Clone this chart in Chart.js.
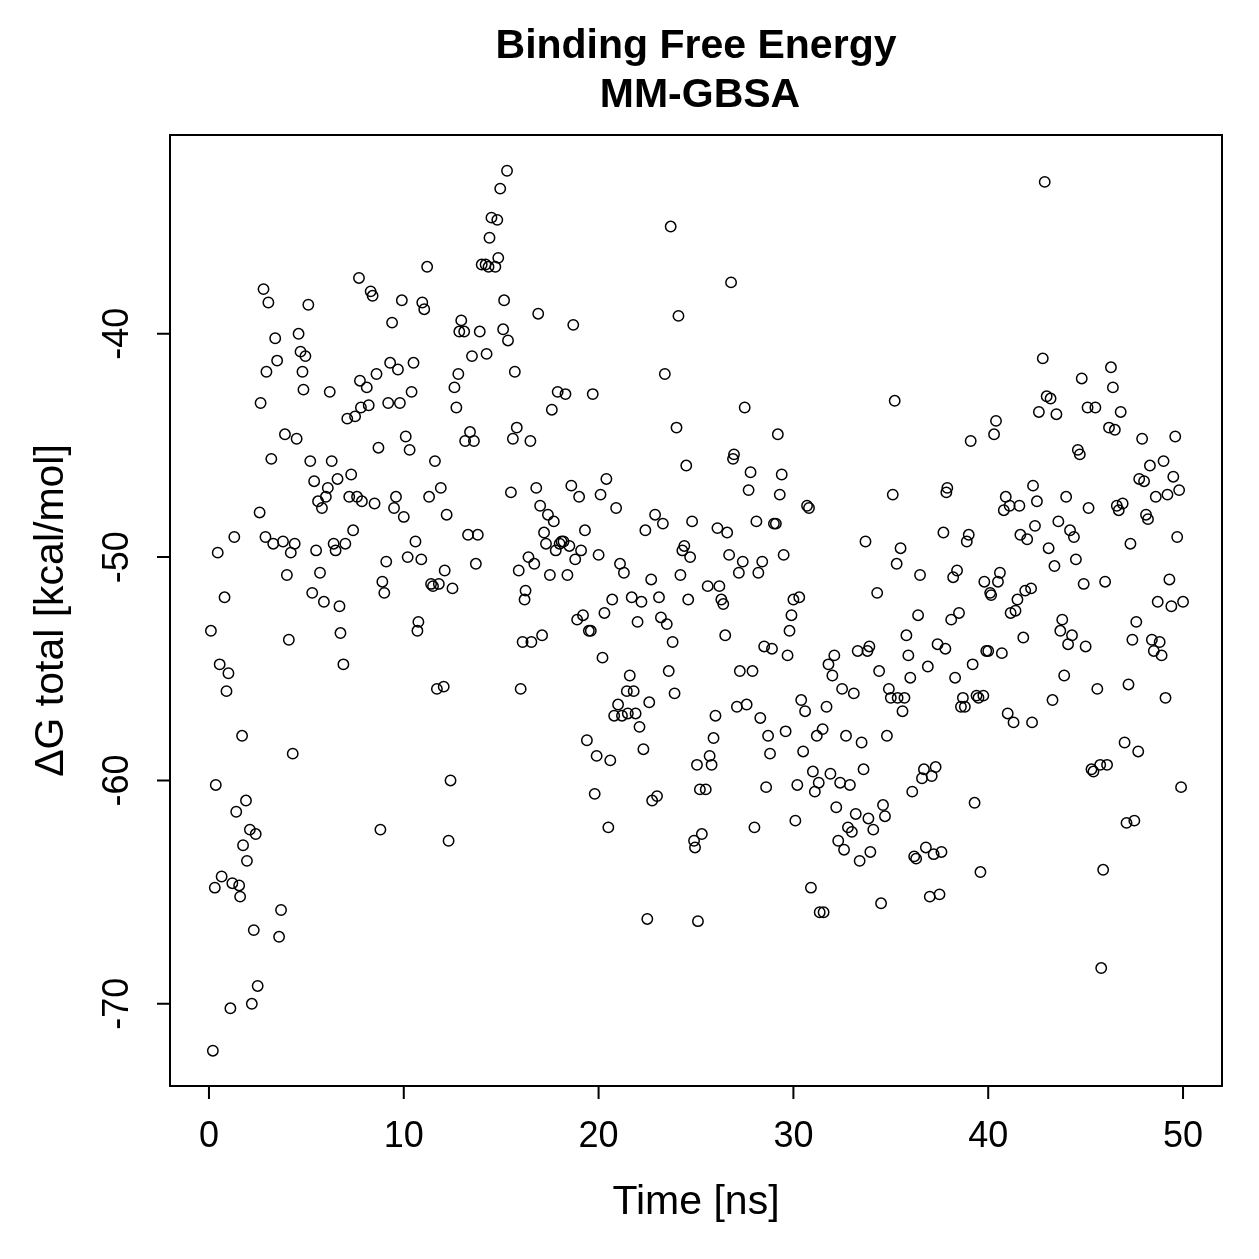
<!DOCTYPE html>
<html lang="en">
<head>
    <meta charset="UTF-8">
    <title>Binding Free Energy - MM-GBSA</title>
    <script src="https://cdn.jsdelivr.net/npm/chart.js"></script>
    <style>
        body { margin: 0; background: #fff; }
        #wrap { width: 1259px; height: 1259px; }
    </style>
</head>
<body>
    <div id="wrap"><canvas id="dgChart" width="1259" height="1259"></canvas></div>

    <script>
        // Valores (tiempo en ns, ΔG en kcal/mol)
        const timeNs = [
            0.1, 0.2, 0.3, 0.35, 0.45, 0.55, 0.65, 0.8, 0.9, 1.0,
            1.1, 1.2, 1.3, 1.4, 1.55, 1.6, 1.7, 1.75, 1.9, 1.95,
            2.1, 2.2, 2.3, 2.4, 2.5, 2.6, 2.65, 2.8, 2.9, 2.95,
            3.05, 3.2, 3.3, 3.4, 3.5, 3.6, 3.7, 3.8, 3.9, 4.0,
            4.1, 4.2, 4.3, 4.4, 4.5, 4.6, 4.7, 4.8, 4.85, 4.95,
            5.1, 5.2, 5.3, 5.4, 5.5, 5.6, 5.7, 5.8, 5.9, 6.0,
            6.1, 6.2, 6.3, 6.4, 6.5, 6.6, 6.7, 6.75, 6.9, 7.0,
            7.1, 7.2, 7.3, 7.4, 7.5, 7.6, 7.7, 7.75, 7.8, 7.85,
            8.1, 8.2, 8.3, 8.4, 8.5, 8.6, 8.7, 8.8, 8.9, 9.0,
            9.1, 9.2, 9.3, 9.4, 9.5, 9.6, 9.7, 9.8, 9.9, 10.0,
            10.1, 10.2, 10.3, 10.4, 10.5, 10.6, 10.7, 10.75, 10.9, 10.95,
            11.05, 11.2, 11.3, 11.4, 11.5, 11.6, 11.7, 11.8, 11.9, 12.05,
            12.1, 12.2, 12.3, 12.4, 12.5, 12.6, 12.7, 12.8, 12.85, 12.95,
            13.1, 13.15, 13.3, 13.4, 13.5, 13.6, 13.7, 13.8, 13.9, 14.0,
            14.2, 14.25, 14.35, 14.4, 14.5, 14.7, 14.8, 14.85, 14.95, 15.1,
            15.15, 15.3, 15.35, 15.5, 15.6, 15.7, 15.8, 15.9, 16.0, 16.1,
            16.2, 16.25, 16.4, 16.5, 16.55, 16.7, 16.8, 16.9, 17.0, 17.1,
            17.2, 17.3, 17.4, 17.5, 17.6, 17.7, 17.8, 17.9, 18.0, 18.1,
            18.2, 18.3, 18.4, 18.5, 18.6, 18.7, 18.8, 18.9, 19.0, 19.1,
            19.2, 19.3, 19.4, 19.5, 19.6, 19.7, 19.8, 19.9, 20.0, 20.1,
            20.2, 20.3, 20.4, 20.5, 20.6, 20.7, 20.8, 20.9, 21.0, 21.1,
            21.2, 21.3, 21.45, 21.5, 21.6, 21.7, 21.8, 21.9, 22.0, 22.1,
            22.2, 22.3, 22.4, 22.5, 22.6, 22.7, 22.75, 22.9, 23.0, 23.1,
            23.2, 23.3, 23.4, 23.5, 23.6, 23.7, 23.8, 23.9, 24.0, 24.1,
            24.2, 24.3, 24.4, 24.5, 24.6, 24.7, 24.8, 24.9, 24.95, 25.05,
            25.1, 25.2, 25.3, 25.5, 25.6, 25.7, 25.8, 25.9, 26.0, 26.1,
            26.2, 26.3, 26.4, 26.5, 26.6, 26.7, 26.8, 26.9, 26.95, 27.1,
            27.2, 27.25, 27.4, 27.5, 27.6, 27.7, 27.8, 27.9, 28.0, 28.1,
            28.2, 28.3, 28.4, 28.5, 28.6, 28.7, 28.8, 28.9, 29.0, 29.1,
            29.2, 29.3, 29.4, 29.5, 29.6, 29.7, 29.8, 29.9, 30.0, 30.1,
            30.2, 30.3, 30.4, 30.5, 30.6, 30.7, 30.8, 30.9, 31.0, 31.1,
            31.2, 31.3, 31.35, 31.5, 31.55, 31.7, 31.8, 31.9, 32.0, 32.1,
            32.2, 32.3, 32.4, 32.5, 32.6, 32.7, 32.8, 32.9, 33.0, 33.1,
            33.2, 33.3, 33.4, 33.5, 33.6, 33.7, 33.8, 33.85, 33.9, 33.95,
            34.1, 34.3, 34.4, 34.5, 34.6, 34.7, 34.8, 34.9, 35.0, 35.1,
            35.2, 35.3, 35.35, 35.5, 35.6, 35.7, 35.8, 35.9, 36.0, 36.1,
            36.2, 36.3, 36.4, 36.5, 36.6, 36.7, 36.8, 36.9, 37.0, 37.1,
            37.2, 37.3, 37.4, 37.5, 37.6, 37.7, 37.8, 37.85, 37.9, 38.1,
            38.2, 38.3, 38.4, 38.5, 38.6, 38.7, 38.8, 38.9, 39.0, 39.1,
            39.2, 39.3, 39.4, 39.5, 39.6, 39.75, 39.8, 39.9, 40.0, 40.1,
            40.15, 40.3, 40.4, 40.5, 40.6, 40.7, 40.8, 40.9, 41.0, 41.1,
            41.15, 41.3, 41.4, 41.5, 41.6, 41.65, 41.8, 41.9, 42.0, 42.2,
            42.25, 42.3, 42.4, 42.5, 42.6, 42.8, 42.9, 43.0, 43.1, 43.2,
            43.3, 43.4, 43.5, 43.6, 43.7, 43.8, 43.9, 44.0, 44.1, 44.2,
            44.3, 44.4, 44.5, 44.6, 44.7, 44.8, 44.9, 45.0, 45.1, 45.15,
            45.3, 45.4, 45.5, 45.6, 45.75, 45.8, 45.9, 46.0, 46.1, 46.2,
            46.3, 46.4, 46.5, 46.6, 46.7, 46.8, 46.9, 47.0, 47.1, 47.2,
            47.3, 47.4, 47.5, 47.6, 47.7, 47.75, 47.9, 48.0, 48.1, 48.2,
            48.3, 48.4, 48.5, 48.6, 48.7, 48.8, 48.9, 49.0, 49.1, 49.2,
            49.3, 49.4, 49.5, 49.6, 49.7, 49.8, 49.9, 50.0
        ];

        const deltaG = [
            -53.3, -72.1, -64.8, -60.2, -49.8, -54.8, -64.3, -51.8, -56.0, -55.2,
            -70.2, -64.6, -49.1, -61.4, -64.7, -65.2, -58.0, -62.9, -60.9, -63.6,
            -62.2, -70.0, -66.7, -62.4, -69.2, -48.0, -43.1, -38.0, -49.1, -41.7,
            -38.6, -45.6, -49.4, -40.2, -41.2, -67.0, -65.8, -49.3, -44.5, -50.8,
            -53.7, -49.8, -58.8, -49.4, -44.7, -40.0, -40.8, -41.7, -42.5, -41.0,
            -38.7, -45.7, -51.6, -46.6, -49.7, -47.5, -50.7, -47.8, -52.0, -47.3,
            -46.9, -42.6, -45.7, -49.4, -49.7, -46.5, -52.2, -53.4, -54.8, -49.4,
            -43.8, -47.3, -46.3, -48.8, -43.7, -47.3, -37.5, -42.1, -43.3, -47.5,
            -42.4, -43.2, -38.1, -38.3, -47.6, -41.8, -45.1, -62.2, -51.1, -51.6,
            -50.2, -43.1, -41.3, -39.5, -47.8, -47.3, -41.6, -43.1, -38.5, -48.2,
            -44.6, -50.0, -45.2, -42.6, -41.3, -49.3, -53.3, -52.9, -50.1, -38.6,
            -38.9, -37.0, -47.3, -51.2, -51.3, -45.7, -55.9, -51.2, -46.9, -55.8,
            -50.6, -48.1, -62.7, -60.0, -51.4, -42.4, -43.3, -41.8, -39.9, -39.4,
            -39.9, -44.8, -49.0, -44.4, -41.0, -44.8, -50.3, -49.0, -39.9, -36.9,
            -36.9, -40.9, -37.0, -35.7, -34.8, -37.0, -34.9, -36.6, -33.5, -39.8,
            -38.5, -32.7, -40.3, -47.1, -44.7, -41.7, -44.2, -50.6, -55.9, -53.8,
            -51.9, -51.5, -50.0, -44.8, -53.8, -50.3, -46.9, -39.1, -47.7, -53.5,
            -48.9, -49.4, -48.1, -50.8, -43.4, -48.4, -49.7, -42.6, -49.4, -49.3,
            -49.3, -42.7, -50.8, -49.5, -46.8, -39.6, -50.1, -52.8, -47.3, -49.7,
            -52.6, -48.8, -58.2, -53.3, -53.3, -42.7, -60.6, -58.9, -49.9, -47.2,
            -54.5, -52.5, -46.5, -62.1, -59.1, -51.9, -57.1, -47.8, -56.6, -50.3,
            -57.1, -50.7, -56.0, -57.0, -55.3, -51.8, -56.0, -57.0, -52.9, -57.6,
            -52.0, -58.6, -48.8, -66.2, -56.5, -51.0, -60.9, -48.1, -60.7, -51.8,
            -52.7, -48.5, -41.8, -53.0, -55.1, -35.2, -53.8, -56.1, -44.2, -39.2,
            -50.8, -49.7, -49.5, -45.9, -51.9, -50.0, -48.4, -62.7, -63.0, -59.3,
            -66.3, -60.4, -62.4, -60.4, -51.3, -58.9, -59.3, -58.1, -57.1, -48.7,
            -51.3, -51.9, -52.1, -53.5, -48.9, -49.9, -37.7, -45.6, -45.4, -56.7,
            -50.7, -55.1, -50.2, -43.3, -56.6, -47.0, -46.2, -55.1, -62.1, -48.4,
            -50.7, -57.2, -50.2, -54.0, -60.3, -58.0, -58.8, -54.1, -48.5, -48.5,
            -44.5, -47.2, -46.3, -49.9, -57.8, -54.4, -53.3, -52.6, -51.9, -61.8,
            -60.2, -51.8, -56.4, -58.7, -56.9, -47.7, -47.8, -64.8, -59.6, -60.5,
            -58.0, -60.1, -65.9, -57.7, -65.9, -56.7, -54.8, -59.7, -55.3, -54.4,
            -61.2, -62.7, -60.1, -55.9, -63.1, -58.0, -62.1, -60.2, -62.3, -56.1,
            -61.5, -54.2, -63.6, -58.3, -59.5, -49.3, -54.2, -61.7, -54.0, -63.2,
            -62.2, -51.6, -55.1, -65.5, -61.1, -61.6, -58.0, -55.9, -56.3, -47.2,
            -43.0, -50.3, -56.3, -49.6, -56.9, -56.3, -53.5, -54.4, -55.4, -60.5,
            -63.4, -63.5, -52.6, -50.8, -59.9, -59.5, -63.0, -54.9, -65.2, -59.8,
            -63.3, -59.4, -53.9, -65.1, -63.2, -48.9, -54.1, -47.1, -46.9, -52.8,
            -50.9, -55.4, -50.6, -52.5, -56.7, -56.3, -56.7, -49.3, -49.0, -44.8,
            -54.8, -61.0, -56.2, -56.3, -64.1, -56.2, -51.1, -54.2, -54.2, -51.6,
            -51.7, -44.5, -43.9, -51.1, -50.7, -54.3, -47.9, -47.3, -57.0, -47.7,
            -52.5, -57.4, -52.4, -51.9, -47.7, -49.0, -53.6, -51.5, -49.2, -51.4,
            -57.4, -46.8, -48.6, -47.5, -43.5, -41.1, -33.2, -42.8, -49.6, -42.9,
            -56.4, -50.4, -43.6, -48.4, -53.3, -52.8, -55.3, -47.3, -53.9, -48.8,
            -53.5, -49.1, -50.1, -45.2, -45.4, -42.0, -51.2, -54.0, -43.3, -47.8,
            -59.5, -59.6, -43.3, -55.9, -59.3, -68.4, -64.0, -51.1, -59.3, -44.2,
            -41.5, -42.4, -44.3, -47.7, -47.9, -43.5, -47.6, -58.3, -61.9, -55.7,
            -49.4, -53.7, -61.8, -52.9, -58.7, -46.5, -44.7, -46.6, -48.1, -48.3,
            -45.9, -53.7, -54.2, -47.3, -52.0, -53.8, -54.4, -45.7, -56.3, -47.2,
            -51.0, -52.2, -46.4, -44.6, -49.1, -47.0, -60.3, -52.0
        ];

        // Marcas de los ejes
        const xTicks = [0, 10, 20, 30, 40, 50];
        const yTicks = [-70, -60, -50, -40];

        const titleLines = ['Binding Free Energy', 'MM-GBSA'];
        const xTitle = 'Time [ns]';
        const yTitle = '\u0394G total [kcal/mol]';

        const FONT = '"Liberation Sans", Arial, Helvetica, sans-serif';

        // Ejes estilo R: caja, marcas hacia afuera y etiquetas verticales en y
        const rAxes = {
            id: 'rAxes',
            afterDraw(chart) {
                const { ctx, chartArea: a, scales: { x, y } } = chart;
                ctx.save();
                ctx.strokeStyle = '#000';
                ctx.fillStyle = '#000';
                ctx.lineWidth = 2;
                ctx.strokeRect(a.left, a.top, a.right - a.left, a.bottom - a.top);

                // eje x
                ctx.beginPath();
                ctx.moveTo(x.getPixelForValue(xTicks[0]), a.bottom);
                ctx.lineTo(x.getPixelForValue(xTicks[xTicks.length - 1]), a.bottom);
                xTicks.forEach(v => {
                    const px = x.getPixelForValue(v);
                    ctx.moveTo(px, a.bottom);
                    ctx.lineTo(px, a.bottom + 13);
                });
                ctx.stroke();
                ctx.font = '36px ' + FONT;
                ctx.textAlign = 'center';
                ctx.textBaseline = 'middle';
                xTicks.forEach(v => ctx.fillText(String(v), x.getPixelForValue(v), a.bottom + 51));

                // eje y
                ctx.beginPath();
                ctx.moveTo(a.left, y.getPixelForValue(yTicks[0]));
                ctx.lineTo(a.left, y.getPixelForValue(yTicks[yTicks.length - 1]));
                yTicks.forEach(v => {
                    const py = y.getPixelForValue(v);
                    ctx.moveTo(a.left, py);
                    ctx.lineTo(a.left - 13, py);
                });
                ctx.stroke();
                yTicks.forEach(v => {
                    ctx.save();
                    ctx.translate(a.left - 52, y.getPixelForValue(v));
                    ctx.rotate(-Math.PI / 2);
                    ctx.fillText(String(v), 0, 0);
                    ctx.restore();
                });

                // títulos de los ejes
                ctx.font = '41px ' + FONT;
                ctx.fillText(xTitle, (a.left + a.right) / 2, a.bottom + 117);
                ctx.save();
                ctx.translate(a.left - 118, (a.top + a.bottom) / 2);
                ctx.rotate(-Math.PI / 2);
                ctx.fillText(yTitle, 0, 0);
                ctx.restore();

                // título
                ctx.font = 'bold 41px ' + FONT;
                ctx.fillText(titleLines[0], (a.left + a.right) / 2, 47);
                ctx.fillText(titleLines[1], (a.left + a.right) / 2 + 4, 96);
                ctx.restore();
            }
        };

        const points = timeNs.map((t, i) => ({ x: t, y: deltaG[i] }));

        new Chart(document.getElementById('dgChart'), {
            type: 'scatter',
            data: {
                datasets: [{
                    label: 'MM-GBSA',
                    data: points,
                    pointStyle: 'circle',
                    pointRadius: 5.2,
                    borderWidth: 1.5,
                    borderColor: '#000',
                    backgroundColor: 'rgba(0,0,0,0)'
                }]
            },
            options: {
                responsive: false,
                animation: false,
                layout: { padding: { left: 170, right: 37, top: 135, bottom: 173 } },
                scales: {
                    x: { type: 'linear', min: -2, max: 52, display: false },
                    y: { type: 'linear', min: -73.68, max: -31.1, display: false }
                },
                plugins: { legend: { display: false }, tooltip: { enabled: false } }
            },
            plugins: [rAxes]
        });
    </script>
</body>
</html>
